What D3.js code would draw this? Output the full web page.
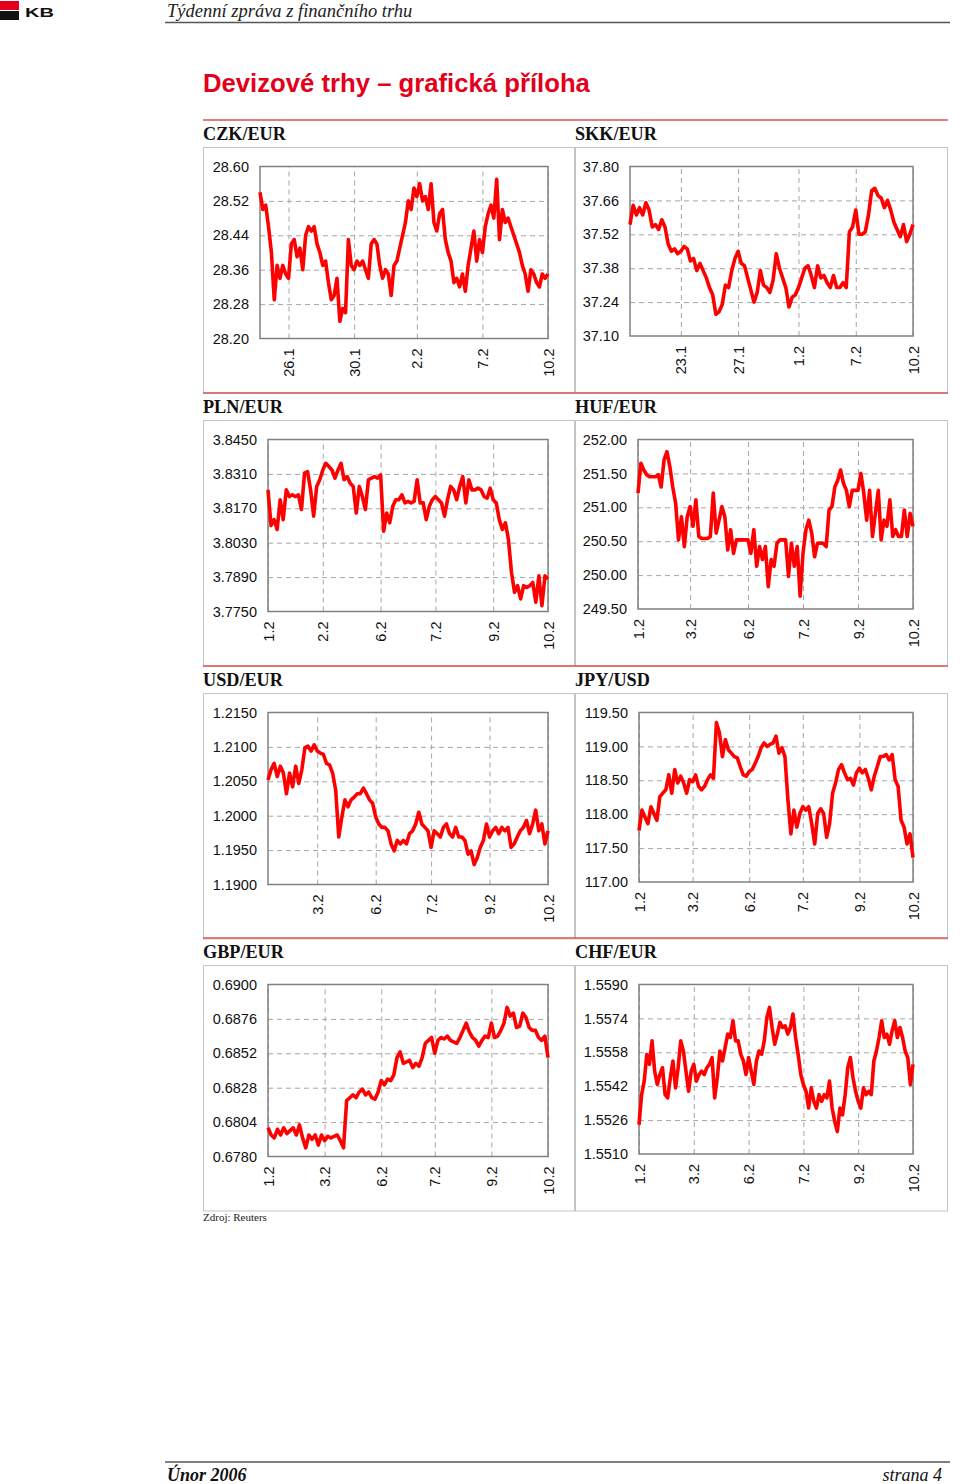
<!DOCTYPE html>
<html><head><meta charset="utf-8">
<script src="https://cdn.jsdelivr.net/npm/d3@7/dist/d3.min.js"></script>
<style>body{margin:0;background:#fff}svg{display:block}</style>
</head><body>
<svg id="page" width="960" height="1484"></svg>
<script>
// ---------- DATA ----------
const czkValues = [28.54,28.50,28.51,28.46,28.40,28.29,28.37,28.34,28.37,28.35,28.34,28.42,28.43,28.39,28.41,28.36,28.44,28.46,28.45,28.46,28.42,28.40,28.37,28.38,28.33,28.29,28.30,28.34,28.24,28.27,28.26,28.43,28.37,28.36,28.38,28.37,28.38,28.36,28.34,28.42,28.43,28.42,28.37,28.34,28.36,28.35,28.30,28.37,28.38,28.41,28.44,28.47,28.52,28.50,28.55,28.53,28.56,28.52,28.53,28.50,28.56,28.47,28.45,28.49,28.50,28.43,28.40,28.38,28.33,28.34,28.32,28.35,28.31,28.37,28.41,28.45,28.38,28.43,28.40,28.46,28.49,28.51,28.48,28.57,28.43,28.50,28.47,28.48,28.46,28.44,28.42,28.40,28.37,28.35,28.31,28.36,28.35,28.33,28.32,28.35,28.34,28.35];
const czkTickIdx = [10,33,55,78,101];
const czkTickLabels = ["26.1","30.1","2.2","7.2","10.2"];
const czkYTicks = ["28.60","28.52","28.44","28.36","28.28","28.20"];

const skkValues = [37.56,37.64,37.60,37.63,37.60,37.65,37.62,37.55,37.56,37.54,37.58,37.55,37.48,37.45,37.46,37.44,37.45,37.47,37.46,37.41,37.42,37.37,37.40,37.37,37.34,37.30,37.27,37.19,37.20,37.23,37.31,37.30,37.37,37.42,37.45,37.40,37.39,37.34,37.29,37.24,37.28,37.37,37.31,37.30,37.28,37.33,37.44,37.38,37.34,37.30,37.22,37.26,37.27,37.30,37.34,37.38,37.39,37.35,37.30,37.39,37.34,37.35,37.32,37.30,37.35,37.30,37.30,37.32,37.30,37.53,37.55,37.62,37.52,37.52,37.53,37.60,37.70,37.71,37.68,37.67,37.63,37.66,37.62,37.57,37.54,37.51,37.56,37.49,37.52,37.56];
const skkTickIdx = [16,34,53,71,89];
const skkTickLabels = ["23.1","27.1","1.2","7.2","10.2"];
const skkYTicks = ["37.80","37.66","37.52","37.38","37.24","37.10"];

const plnValues = [3.8245,3.8100,3.8124,3.8084,3.8205,3.8124,3.8245,3.8218,3.8225,3.8218,3.8225,3.8165,3.8313,3.8319,3.8245,3.8138,3.8259,3.8286,3.8326,3.8353,3.8340,3.8326,3.8293,3.8326,3.8353,3.8286,3.8299,3.8272,3.8259,3.8151,3.8259,3.8218,3.8165,3.8286,3.8293,3.8299,3.8293,3.8306,3.8077,3.8151,3.8111,3.8178,3.8205,3.8205,3.8225,3.8192,3.8198,3.8192,3.8198,3.8286,3.8192,3.8192,3.8124,3.8178,3.8205,3.8218,3.8205,3.8192,3.8138,3.8205,3.8259,3.8245,3.8205,3.8259,3.8299,3.8192,3.8286,3.8245,3.8245,3.8252,3.8245,3.8218,3.8211,3.8252,3.8205,3.8192,3.8124,3.8084,3.8111,3.8043,3.7909,3.7828,3.7855,3.7801,3.7855,3.7848,3.7855,3.7868,3.7788,3.7895,3.7774,3.7895,3.7882];
const plnTickIdx = [0,18,37,55,74,92];
const plnTickLabels = ["1.2","2.2","6.2","7.2","9.2","10.2"];
const plnYTicks = ["3.8450","3.8310","3.8170","3.8030","3.7890","3.7750"];

const hufValues = [251.21,251.65,251.55,251.48,251.45,251.45,251.45,251.48,251.30,251.70,251.82,251.60,251.30,251.06,250.52,250.86,250.42,250.86,251.01,250.72,251.11,250.57,250.54,250.54,250.54,250.57,251.21,250.62,250.81,251.01,250.86,250.37,250.67,250.32,250.52,250.52,250.52,250.52,250.52,250.32,250.67,250.13,250.42,250.23,250.42,249.83,250.23,250.13,250.47,250.52,250.52,250.52,249.98,250.47,250.13,250.42,249.69,250.32,250.67,250.81,250.62,250.27,250.47,250.47,250.47,250.42,250.96,251.01,251.30,251.40,251.55,251.35,251.25,251.01,251.25,251.25,251.25,251.50,251.21,250.81,251.25,250.57,250.91,251.25,250.52,250.81,250.72,251.11,250.57,250.67,250.57,250.57,250.96,250.57,250.91,250.72];
const hufTickIdx = [0,18,38,57,76,95];
const hufTickLabels = ["1.2","3.2","6.2","7.2","9.2","10.2"];
const hufYTicks = ["252.00","251.50","251.00","250.50","250.00","249.50"];

const usdValues = [1.2052,1.2067,1.2076,1.2057,1.2072,1.2062,1.2032,1.2062,1.2042,1.2072,1.2047,1.2067,1.2099,1.2101,1.2094,1.2103,1.2094,1.2091,1.2089,1.2076,1.2074,1.2062,1.2037,1.1969,1.1998,1.2023,1.2013,1.2023,1.2027,1.2032,1.2032,1.2040,1.2032,1.2023,1.2018,1.1998,1.1988,1.1983,1.1983,1.1978,1.1959,1.1949,1.1964,1.1959,1.1964,1.1959,1.1974,1.1978,1.1988,1.2005,1.1988,1.1983,1.1978,1.1954,1.1978,1.1974,1.1969,1.1983,1.1988,1.1974,1.1969,1.1983,1.1969,1.1969,1.1964,1.1944,1.1949,1.1929,1.1939,1.1954,1.1964,1.1988,1.1969,1.1978,1.1983,1.1974,1.1983,1.1978,1.1983,1.1954,1.1959,1.1969,1.1978,1.1983,1.1993,1.1974,1.1988,1.2008,1.1978,1.1988,1.1959,1.1978];
const usdTickIdx = [16,35,53,72,91];
const usdTickLabels = ["3.2","6.2","7.2","9.2","10.2"];
const usdYTicks = ["1.2150","1.2100","1.2050","1.2000","1.1950","1.1900"];

const jpyValues = [117.76,118.06,117.96,117.86,118.11,118.01,117.91,118.26,118.31,118.36,118.58,118.31,118.66,118.46,118.56,118.46,118.31,118.51,118.48,118.58,118.41,118.36,118.41,118.51,118.58,118.53,119.35,119.20,118.85,119.10,118.95,118.90,118.85,118.83,118.70,118.58,118.56,118.63,118.66,118.75,118.85,118.98,119.05,119.00,119.03,119.05,119.15,118.90,118.98,118.85,118.21,117.71,118.06,117.81,118.01,118.11,118.06,118.11,117.86,117.56,118.01,118.08,118.01,117.66,117.86,118.31,118.46,118.66,118.73,118.61,118.51,118.53,118.43,118.61,118.68,118.61,118.66,118.53,118.36,118.56,118.70,118.85,118.85,118.88,118.80,118.88,118.51,118.41,117.91,117.81,117.56,117.71,117.36];
const jpyTickIdx = [0,18,37,55,74,92];
const jpyTickLabels = ["1.2","3.2","6.2","7.2","9.2","10.2"];
const jpyYTicks = ["119.50","119.00","118.50","118.00","117.50","117.00"];

const gbpValues = [0.6800,0.6795,0.6793,0.6799,0.6795,0.6800,0.6796,0.6798,0.6800,0.6795,0.6802,0.6793,0.6786,0.6795,0.6792,0.6795,0.6788,0.6795,0.6791,0.6794,0.6793,0.6794,0.6795,0.6791,0.6786,0.6819,0.6821,0.6823,0.6821,0.6825,0.6827,0.6823,0.6825,0.6821,0.6820,0.6825,0.6833,0.6830,0.6834,0.6833,0.6837,0.6849,0.6853,0.6845,0.6846,0.6847,0.6842,0.6845,0.6843,0.6849,0.6859,0.6861,0.6863,0.6852,0.6861,0.6863,0.6862,0.6864,0.6861,0.6860,0.6859,0.6863,0.6868,0.6873,0.6867,0.6863,0.6861,0.6857,0.6861,0.6864,0.6863,0.6873,0.6863,0.6864,0.6868,0.6873,0.6884,0.6878,0.6880,0.6870,0.6871,0.6880,0.6877,0.6870,0.6868,0.6868,0.6863,0.6861,0.6864,0.6849];
const gbpTickIdx = [0,18,36,53,71,89];
const gbpTickLabels = ["1.2","3.2","6.2","7.2","9.2","10.2"];
const gbpYTicks = ["0.6900","0.6876","0.6852","0.6828","0.6804","0.6780"];

const chfValues = [1.55238,1.55380,1.55444,1.55570,1.55523,1.55634,1.55491,1.55428,1.55475,1.55507,1.55380,1.55365,1.55460,1.55539,1.55412,1.55507,1.55634,1.55586,1.55491,1.55396,1.55491,1.55523,1.55444,1.55475,1.55491,1.55475,1.55507,1.55523,1.55555,1.55365,1.55460,1.55586,1.55539,1.55602,1.55666,1.55650,1.55729,1.55634,1.55634,1.55570,1.55539,1.55475,1.55555,1.55491,1.55428,1.55539,1.55586,1.55570,1.55634,1.55745,1.55792,1.55697,1.55618,1.55666,1.55721,1.55697,1.55705,1.55666,1.55697,1.55761,1.55650,1.55570,1.55475,1.55428,1.55396,1.55317,1.55412,1.55349,1.55317,1.55380,1.55349,1.55380,1.55365,1.55444,1.55317,1.55254,1.55206,1.55317,1.55285,1.55380,1.55507,1.55555,1.55460,1.55396,1.55349,1.55317,1.55412,1.55380,1.55396,1.55380,1.55539,1.55586,1.55650,1.55729,1.55650,1.55666,1.55618,1.55682,1.55729,1.55650,1.55697,1.55650,1.55586,1.55555,1.55428,1.55523];
const chfTickIdx = [0,21,42,63,84,105];
const chfTickLabels = ["1.2","3.2","6.2","7.2","9.2","10.2"];
const chfYTicks = ["1.5590","1.5574","1.5558","1.5542","1.5526","1.5510"];

// ---------- LAYOUT ----------
const charts = [
  {title:"CZK/EUR", values:czkValues, tickIdx:czkTickIdx, tickLabels:czkTickLabels, yTicks:czkYTicks, row:0, col:0, left:260},
  {title:"SKK/EUR", values:skkValues, tickIdx:skkTickIdx, tickLabels:skkTickLabels, yTicks:skkYTicks, row:0, col:1, left:630},
  {title:"PLN/EUR", values:plnValues, tickIdx:plnTickIdx, tickLabels:plnTickLabels, yTicks:plnYTicks, row:1, col:0, left:268},
  {title:"HUF/EUR", values:hufValues, tickIdx:hufTickIdx, tickLabels:hufTickLabels, yTicks:hufYTicks, row:1, col:1, left:638},
  {title:"USD/EUR", values:usdValues, tickIdx:usdTickIdx, tickLabels:usdTickLabels, yTicks:usdYTicks, row:2, col:0, left:268},
  {title:"JPY/USD", values:jpyValues, tickIdx:jpyTickIdx, tickLabels:jpyTickLabels, yTicks:jpyYTicks, row:2, col:1, left:639},
  {title:"GBP/EUR", values:gbpValues, tickIdx:gbpTickIdx, tickLabels:gbpTickLabels, yTicks:gbpYTicks, row:3, col:0, left:268},
  {title:"CHF/EUR", values:chfValues, tickIdx:chfTickIdx, tickLabels:chfTickLabels, yTicks:chfYTicks, row:3, col:1, left:639}
];
const rowTops = [120, 393, 666, 938];
const colX = [203, 575];
const colW = [372, 373];
const plotRight = [548, 913];
const boxH = 245.5;

const svg = d3.select("#page");
const SANS = "'Liberation Sans', Arial, sans-serif";
const SERIF = "'Liberation Serif', 'Times New Roman', serif";

// Header
svg.append("rect").attr("x",0).attr("y",1).attr("width",19).attr("height",9).attr("fill","#e2001a");
svg.append("rect").attr("x",0).attr("y",11).attr("width",19).attr("height",9).attr("fill","#111");
svg.append("text").attr("x",25).attr("y",17).attr("font-family",SANS).attr("font-weight","bold")
  .attr("font-size",13).attr("textLength",29).attr("lengthAdjust","spacingAndGlyphs").attr("fill","#111").text("KB");
svg.append("text").attr("x",167).attr("y",17).attr("font-family",SERIF).attr("font-style","italic")
  .attr("font-size",18.5).attr("fill","#222").text("Týdenní zpráva z finančního trhu");
svg.append("line").attr("x1",165).attr("x2",950).attr("y1",22.5).attr("y2",22.5).attr("stroke","#555").attr("stroke-width",1.5);

// Title
svg.append("text").attr("x",203).attr("y",92).attr("font-family",SANS).attr("font-weight","bold")
  .attr("font-size",25.7).attr("fill","#e2001a").text("Devizové trhy – grafická příloha");

// Boxes
charts.forEach(c => {
  const bt = rowTops[c.row] + 27;
  svg.append("rect").attr("x",colX[c.col]+0.5).attr("y",bt+0.5).attr("width",colW[c.col]-1).attr("height",boxH)
    .attr("fill","#fff").attr("stroke","#c4c4c4").attr("stroke-width",1);
});
// Red separators
rowTops.forEach(t => {
  svg.append("line").attr("x1",203).attr("x2",948).attr("y1",t).attr("y2",t).attr("stroke","#d9534f").attr("stroke-width",1.5);
});

charts.forEach(c => {
  const top = rowTops[c.row];
  svg.append("text").attr("x",colX[c.col]).attr("y",top+20).attr("font-family",SERIF).attr("font-weight","bold")
    .attr("font-size",18.2).attr("fill","#111").text(c.title);

  const bt = top + 27;
  const pTop = bt + 19.5;
  const pBot = bt + (c.col === 0 ? 191.5 : 189);
  const pL = c.left, pR = plotRight[c.col];
  const yVals = c.yTicks.map(Number);
  const x = d3.scaleLinear().domain([0, c.values.length - 1]).range([pL, pR]);
  const y = d3.scaleLinear().domain([d3.min(yVals), d3.max(yVals)]).range([pBot, pTop]);
  const g = svg.append("g");

  // gridlines
  const gy = g.append("g").attr("transform",`translate(${pL},0)`)
    .call(d3.axisLeft(y).tickValues(yVals.slice(1, -1)).tickSize(-(pR - pL)).tickFormat(""));
  const gx = g.append("g").attr("transform",`translate(0,${pBot})`)
    .call(d3.axisBottom(x).tickValues(c.tickIdx).tickSize(-(pBot - pTop)).tickFormat(""));
  [gy, gx].forEach(a => {
    a.select(".domain").remove();
    a.selectAll("line").attr("stroke","#a6a6a6").attr("stroke-width",1).attr("stroke-dasharray","5,4");
  });

  // border
  g.append("rect").attr("x",pL).attr("y",pTop).attr("width",pR-pL).attr("height",pBot-pTop)
    .attr("fill","none").attr("stroke","#808080").attr("stroke-width",1.5);

  // line
  const line = d3.line().x((d,i) => x(i)).y(d => y(d));
  g.append("path").datum(c.values).attr("d", line).attr("fill","none").attr("stroke","#ff0000")
    .attr("stroke-width",3.6).attr("stroke-linejoin","round");

  // y labels
  const ay = g.append("g").attr("transform",`translate(${pL},0)`)
    .call(d3.axisLeft(y).tickValues(yVals).tickSize(0).tickPadding(11).tickFormat((d,i) => c.yTicks[i]));
  ay.select(".domain").remove();
  ay.selectAll("text").attr("font-family",SANS).attr("font-size",14.5).attr("fill","#111");

  // x labels
  const ax = g.append("g").attr("transform",`translate(0,${pBot})`)
    .call(d3.axisBottom(x).tickValues(c.tickIdx).tickSize(0).tickFormat((d,i) => c.tickLabels[i]));
  ax.select(".domain").remove();
  ax.selectAll("text").attr("font-family",SANS).attr("font-size",14.5).attr("fill","#111")
    .attr("text-anchor","end").attr("transform","rotate(-90)").attr("x",-10).attr("y",0).attr("dy","0.35em");
});

// Source
svg.append("text").attr("x",203).attr("y",1221).attr("font-family",SERIF).attr("font-size",11).attr("fill","#222").text("Zdroj: Reuters");

// Footer
svg.append("line").attr("x1",165).attr("x2",950).attr("y1",1462).attr("y2",1462).attr("stroke","#555").attr("stroke-width",1.5);
svg.append("text").attr("x",167).attr("y",1481).attr("font-family",SERIF).attr("font-weight","bold").attr("font-style","italic")
  .attr("font-size",18).attr("fill","#111").text("Únor 2006");
svg.append("text").attr("x",942).attr("y",1481).attr("text-anchor","end").attr("font-family",SERIF).attr("font-style","italic")
  .attr("font-size",18).attr("fill","#111").text("strana 4");
</script>
</body></html>
